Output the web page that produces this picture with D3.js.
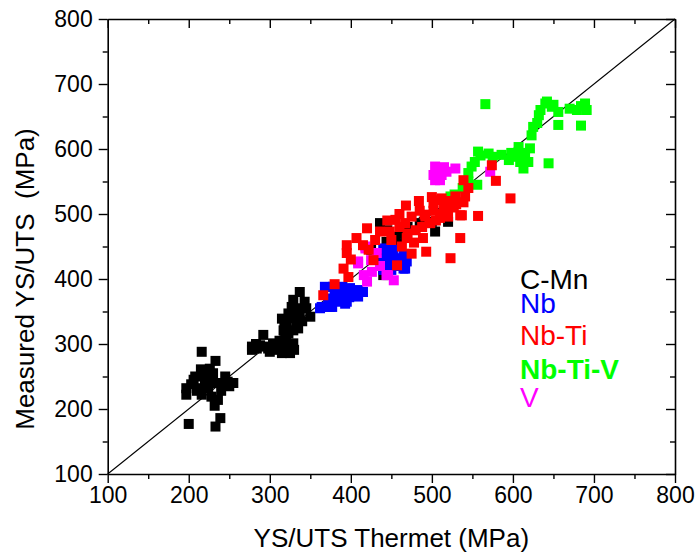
<!DOCTYPE html>
<html><head><meta charset="utf-8">
<script src="https://cdn.jsdelivr.net/npm/d3@7"></script>
<style>body{margin:0;background:#fff}svg{display:block}text{font-family:"Liberation Sans",Arial,sans-serif}</style>
</head><body>
<svg id="c" width="696" height="554"></svg>
<script>
const xTicks=[100,200,300,400,500,600,700,800];
const yTicks=[100,200,300,400,500,600,700,800];
const seriesNames=["C-Mn","Nb","Nb-Ti","Nb-Ti-V","V"];
const seriesColors=["#000000","#0000ff","#ff0000","#00ff00","#ff00ff"];
const cmn=[[200,177],[233,173],[239,186],[216,288],[233,274],[215,261],[208,250],[230,255],[245,250],[255,240],[243,237],[197,232],[197,222],[214,232],[224,232],[216,222],[228,219],[236,214],[232,205],[206,245],[224,245],[236,240],[220,238],[210,228],[240,228],[248,242],[226,262],[203,238],[219,252],[250,235],
[278,296],[278,291],[284,293],[292,314],[294,296],[304,301],[306,291],[315,286],[325,286],[329,301],[319,298],[317,321],[321,329],[315,339],[323,347],[327,357],[329,368],[337,380],[343,365],[335,355],[337,342],[350,342],[333,332],[329,321],[323,316],[335,324],[283,300],[288,298],[298,293],[310,296],[312,305],[320,310],[326,340],[331,350],[340,335],[345,355],[318,330],[322,287],[330,291],[300,288],
[436,486],[444,457],[455,465],[485,486],[504,473],[520,488],[436,434],[440,406],[450,450],[465,470],[470,480],[490,488],[445,475],[425,445],[460,455],[500,488]];
const nb=[[362,355],[364,357],[368,388],[374,357],[377,357],[378,388],[383,365],[388,368],[389,388],[393,362],[393,379],[395,365],[399,386],[404,378],[407,378],[409,383],[409,373],[415,380],[440,429],[444,419],[450,414],[465,416],[461,427],[465,438],[448,440],[440,447],[444,442],[448,429],[467,416],[469,427],[440,414],[385,375],[372,370],[455,432],[458,420],[452,445],[398,372],[380,380]];
const vv=[[409,424],[416,406],[420,396],[426,411],[446,406],[453,398],[418,450],[432,440],[418,447],[409,427],[425,429],[444,406],[436,420],[504,573],[502,560],[510,552],[518,565],[529,570],[572,565],[506,565],[512,560],[504,552],[515,572]];
const nbtiv=[[566,669],[642,673],[650,668],[634,660],[632,652],[656,657],[679,660],[689,670],[691,660],[656,637],[684,636],[625,634],[623,621],[621,601],[607,603],[611,594],[609,580],[613,570],[619,580],[595,583],[586,591],[644,578],[557,596],[570,593],[553,580],[549,573],[545,563],[545,550],[556,545],[523,527],[598,594],[640,670],[684,666],[560,590],[575,588],[600,588],[615,590],[648,665],[528,530],[538,540],[630,640],[670,662]];
const nbti=[[574,575],[579,551],[597,524],[539,552],[541,527],[539,518],[529,527],[535,498],[557,497],[535,463],[523,432],[493,442],[489,463],[506,521],[502,505],[515,510],[520,496],[510,494],[497,486],[491,499],[527,510],[500,526],[468,513],[395,452],[407,463],[391,416],[397,403],[422,445],[428,429],[457,421],[436,473],[448,473],[455,491],[467,486],[475,496],[469,463],[463,450],[475,439],[478,456],[492,496],[498,486],[502,517],[512,524],[518,504],[525,517],[537,498],[366,375],[380,392],[415,452],[430,460],[445,490],[460,480],[480,475],[485,505],[505,490],[512,500],[520,520],[530,515],[545,540],[470,470],[450,460],[484,520],[400,430],[420,478],[395,440],[460,500],[488,480]];
// drawing order: black, blue, magenta, green, red
const drawOrder=[[cmn,0],[nb,1],[vv,4],[nbtiv,3],[nbti,2]];

const svg=d3.select("#c");
const x=d3.scaleLinear().domain([100,800]).range([107.7,675]);
const y=d3.scaleLinear().domain([100,800]).range([474,19]);
const minorX=d3.range(150,800,100), minorY=d3.range(150,800,100);

svg.append("line").attr("x1",x(100)).attr("y1",y(100)).attr("x2",x(800)).attr("y2",y(800))
  .attr("stroke","#000").attr("stroke-width",1.1);

const sz=10;
drawOrder.forEach(([data,i])=>{
  svg.append("g").selectAll("rect").data(data).join("rect")
    .attr("x",d=>x(d[0])-sz/2).attr("y",d=>y(d[1])-sz/2)
    .attr("width",sz).attr("height",sz).attr("fill",seriesColors[i]);
});

function styleAxis(g){g.select(".domain").attr("stroke-width",1.6);g.selectAll(".tick line").attr("stroke-width",1.4);}
const fs=23;
svg.append("g").attr("transform",`translate(0,${y(100)})`)
  .call(d3.axisBottom(x).tickValues(xTicks).tickSize(9).tickSizeOuter(0).tickPadding(4).tickFormat(d3.format("d")))
  .call(styleAxis).call(g=>g.selectAll("text").attr("font-size",fs).attr("fill","#000").attr("font-family","Liberation Sans, Arial"));
svg.append("g").attr("transform",`translate(0,${y(100)})`)
  .call(d3.axisBottom(x).tickValues(minorX).tickSize(5).tickSizeOuter(0).tickFormat(""))
  .call(styleAxis).call(g=>g.select(".domain").remove());
svg.append("g").attr("transform",`translate(0,${y(800)})`)
  .call(d3.axisBottom(x).tickValues(xTicks).tickSize(9).tickSizeOuter(0).tickFormat(""))
  .call(styleAxis);
svg.append("g").attr("transform",`translate(0,${y(800)})`)
  .call(d3.axisBottom(x).tickValues(minorX).tickSize(5).tickSizeOuter(0).tickFormat(""))
  .call(styleAxis).call(g=>g.select(".domain").remove());
svg.append("g").attr("transform",`translate(${x(100)},0)`)
  .call(d3.axisLeft(y).tickValues(yTicks).tickSize(9).tickSizeOuter(0).tickPadding(6).tickFormat(d3.format("d")))
  .call(styleAxis).call(g=>g.selectAll("text").attr("font-size",fs).attr("fill","#000").attr("font-family","Liberation Sans, Arial"));
svg.append("g").attr("transform",`translate(${x(100)},0)`)
  .call(d3.axisLeft(y).tickValues(minorY).tickSize(5).tickSizeOuter(0).tickFormat(""))
  .call(styleAxis).call(g=>g.select(".domain").remove());
svg.append("g").attr("transform",`translate(${x(800)},0)`)
  .call(d3.axisLeft(y).tickValues(yTicks).tickSize(9).tickSizeOuter(0).tickFormat(""))
  .call(styleAxis);
svg.append("g").attr("transform",`translate(${x(800)},0)`)
  .call(d3.axisLeft(y).tickValues(minorY).tickSize(5).tickSizeOuter(0).tickFormat(""))
  .call(styleAxis).call(g=>g.select(".domain").remove());

svg.append("text").attr("x",(x(100)+x(800))/2).attr("y",547).attr("text-anchor","middle")
  .attr("font-size",26).text("YS/UTS Thermet (MPa)");
svg.append("text").attr("transform",`translate(34,279) rotate(-90)`).attr("text-anchor","middle")
  .attr("xml:space","preserve").style("white-space","pre")
  .attr("font-size",26).text("Measured YS/UTS  (MPa)");

const legY=[289,313,345,379,407];
seriesNames.forEach((n,i)=>{
  svg.append("text").attr("x",520).attr("y",legY[i]).attr("font-size",28)
    .attr("font-weight",n==="Nb-Ti-V"?"bold":"normal")
    .attr("fill",seriesColors[i]).text(n);
});
</script>
</body></html>
